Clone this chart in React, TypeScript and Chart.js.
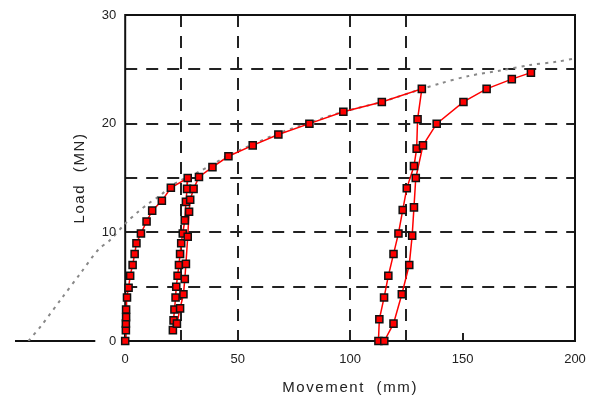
import React, { useEffect, useRef } from "react";
import { Chart, registerables } from "chart.js";

Chart.register(...registerables);

// Measured load–movement curve (red squares), in test order
const movementMm = [
  0.0, 0.3, 0.3, 0.4, 0.4, 0.8, 1.5, 2.2, 3.3, 4.2, 5.0, 7.0, 9.5, 12.0, 16.3, 20.3, 27.8,
  27.5, 27.0, 26.5, 25.6, 24.9, 24.4, 23.9, 23.3, 22.7, 22.4, 21.9, 21.5, 21.2,
  23.0, 24.4, 25.9, 26.5, 27.0, 27.8, 28.4, 28.9, 30.4, 32.8,
  38.8, 45.9, 56.7, 68.1, 81.9, 97.0, 114.1, 131.9,
  130.0, 129.6, 128.4, 125.2, 123.4, 121.5, 119.3, 117.0, 115.1, 113.0, 112.6,
  115.2, 119.3, 123.0, 126.3, 127.6, 128.4, 129.2, 132.4, 138.5, 150.4, 160.7, 171.9, 180.4,
];
const loadMN = [
  0.0, 1.0, 1.6, 2.2, 2.9, 4.0, 4.9, 6.0, 7.0, 8.0, 9.0, 9.9, 11.0, 12.0, 12.9, 14.1, 15.0,
  14.0, 12.8, 11.1, 9.9, 9.0, 8.0, 7.0, 6.0, 5.0, 4.0, 2.9, 1.9, 1.0,
  1.6, 3.0, 4.3, 5.7, 7.1, 9.6, 11.9, 13.0, 14.0, 15.1,
  16.0, 17.0, 18.0, 19.0, 20.0, 21.1, 22.0, 23.2,
  20.4, 17.7, 16.1, 14.05, 12.05, 9.9, 8.0, 6.0, 4.0, 2.0, 0.0,
  0.0, 1.6, 4.3, 7.0, 9.7, 12.3, 15.0, 18.0, 20.0, 22.0, 23.2, 24.1, 24.7,
];

// Grey dotted reference curve
const fitMovementMm = [
  -43, -37, -28, -20, -12, -6.7, 0, 5.8, 10.7, 15.6, 21.3, 32, 40, 46, 56.7, 68, 82, 97, 114,
  132, 140, 153, 167, 180, 192, 200,
];
const fitLoadMN = [
  0, 1.5, 4.0, 6.2, 8.4, 9.3, 10.8, 11.9, 12.7, 13.4, 14.4, 15.5, 16.4, 17.1, 18.1, 19.1, 20.1,
  21.1, 22.0, 23.2, 23.7, 24.4, 24.9, 25.4, 25.7, 26.0,
];

// Short black base line left of the axis
const baseMovementMm = [-49, -13.3];
const baseLoadMN = [0, 0];

const xTicks = [0, 50, 100, 150, 200];
const yTicks = [0, 10, 20, 30];
const xGrid = [25, 50, 100, 125];
const yGrid = [5, 10, 15, 20, 25];

const xTitle = "Movement  (mm)";
const yTitle = "Load  (MN)";

const FONT = '"Liberation Sans", Arial, sans-serif';

const zip = (xs: number[], ys: number[]) => xs.map((x, i) => ({ x, y: ys[i] }));

const framePlugin = {
  id: "frame",
  beforeDatasetsDraw(chart: any) {
    const { ctx, chartArea, scales } = chart;
    const { top, bottom, right } = chartArea;
    const x = scales.x;
    const y = scales.y;
    const left = x.getPixelForValue(0);
    ctx.save();
    ctx.strokeStyle = "#222";
    ctx.lineWidth = 2;
    ctx.setLineDash([12, 9]);
    xGrid.forEach((v) => {
      const px = Math.round(x.getPixelForValue(v));
      ctx.beginPath();
      ctx.moveTo(px, top);
      ctx.lineTo(px, bottom);
      ctx.stroke();
    });
    yGrid.forEach((v) => {
      const py = Math.round(y.getPixelForValue(v));
      ctx.beginPath();
      ctx.moveTo(left, py);
      ctx.lineTo(right, py);
      ctx.stroke();
    });
    ctx.setLineDash([]);
    // inward tick marks
    xTicks.forEach((v) => {
      const px = Math.round(x.getPixelForValue(v));
      ctx.beginPath();
      ctx.moveTo(px, bottom);
      ctx.lineTo(px, bottom - 8);
      ctx.stroke();
    });
    yTicks.forEach((v) => {
      const py = Math.round(y.getPixelForValue(v));
      ctx.beginPath();
      ctx.moveTo(left, py);
      ctx.lineTo(left + 8, py);
      ctx.stroke();
    });
    ctx.strokeStyle = "#111";
    ctx.strokeRect(left, top, right - left, bottom - top);
    ctx.restore();
  },
  afterDraw(chart: any) {
    const { ctx, chartArea, scales } = chart;
    const { top, bottom, right } = chartArea;
    const x = scales.x;
    const y = scales.y;
    const left = x.getPixelForValue(0);
    ctx.save();
    ctx.fillStyle = "#222";
    ctx.font = `13px ${FONT}`;
    ctx.textBaseline = "middle";
    ctx.textAlign = "center";
    xTicks.forEach((v) => {
      ctx.fillText(String(v), x.getPixelForValue(v), bottom + 18);
    });
    ctx.textAlign = "right";
    yTicks.forEach((v) => {
      ctx.fillText(String(v), left - 9, y.getPixelForValue(v));
    });
    ctx.font = `15px ${FONT}`;
    (ctx as any).letterSpacing = "1.6px";
    ctx.textAlign = "center";
    ctx.fillText(xTitle, (left + right) / 2, bottom + 47);
    ctx.translate(80, (top + bottom) / 2);
    ctx.rotate(-Math.PI / 2);
    ctx.fillText(yTitle, 0, 0);
    ctx.restore();
  },
};

export default function App() {
  const ref = useRef<HTMLCanvasElement | null>(null);
  useEffect(() => {
    if (!ref.current) return;
    const chart = new Chart(ref.current, {
      type: "scatter",
      data: {
        datasets: [
          {
            data: zip(movementMm, loadMN),
            showLine: true,
            borderColor: "#ff0000",
            borderWidth: 1.5,
            pointStyle: "rect",
            pointRadius: 5,
            pointBackgroundColor: "#ff0000",
            pointBorderColor: "#111",
            pointBorderWidth: 1.5,
            tension: 0,
            clip: false,
          } as any,
          {
            data: zip(fitMovementMm, fitLoadMN),
            showLine: true,
            borderColor: "#888",
            borderWidth: 2,
            borderDash: [3, 5],
            pointRadius: 0,
            tension: 0.3,
          } as any,
          {
            data: zip(baseMovementMm, baseLoadMN),
            showLine: true,
            borderColor: "#111",
            borderWidth: 2,
            pointRadius: 0,
            clip: false,
          } as any,
        ],
      },
      options: {
        animation: false,
        responsive: false,
        events: [],
        layout: { padding: { left: 15, top: 15, right: 15, bottom: 59 } },
        plugins: {
          legend: { display: false },
          tooltip: { enabled: false },
        },
        scales: {
          x: { type: "linear", min: -49, max: 200, display: false },
          y: { type: "linear", min: 0, max: 30, display: false },
        },
      },
      plugins: [framePlugin],
    });
    return () => chart.destroy();
  }, []);
  return (
    <div style={{ position: "fixed", left: 0, top: 0, width: 590, height: 400, background: "#fff" }}>
      <canvas ref={ref} width={590} height={400} style={{ display: "block" }} />
    </div>
  );
}
